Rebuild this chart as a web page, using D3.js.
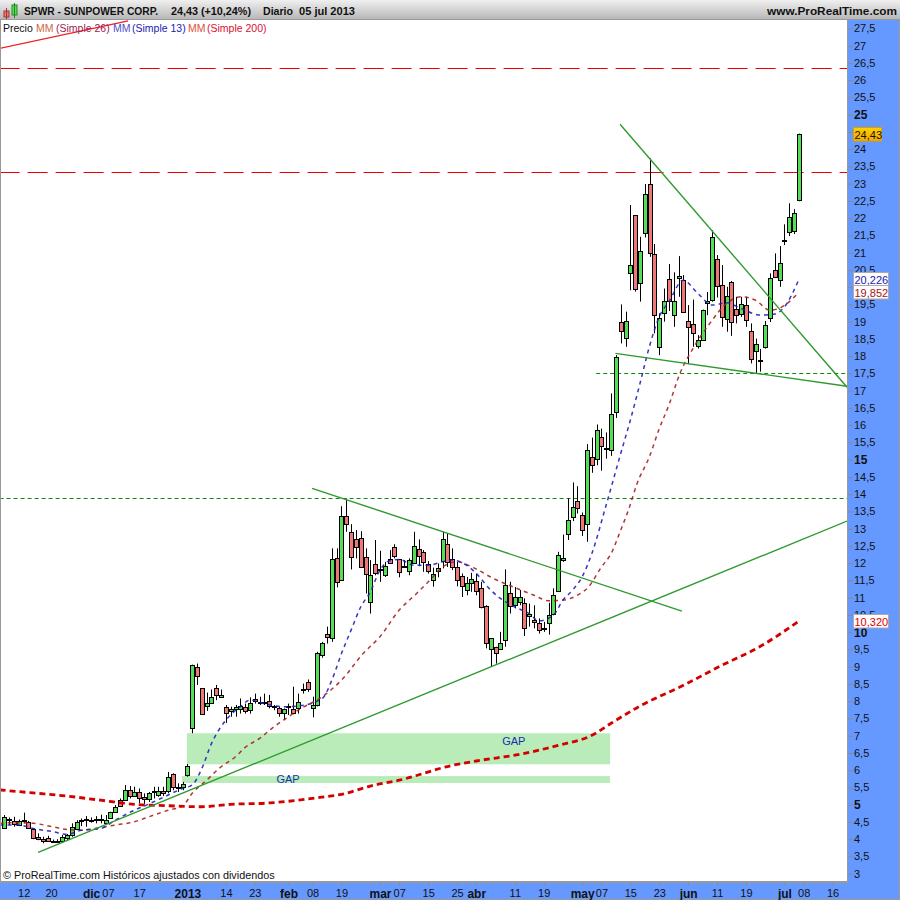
<!DOCTYPE html>
<html><head><meta charset="utf-8">
<script src="https://cdnjs.cloudflare.com/ajax/libs/d3/7.8.5/d3.min.js"></script>
<style>html,body{margin:0;padding:0;background:#fff}svg{display:block}text{font-family:"Liberation Sans",Arial,sans-serif}</style>
</head><body><div id="c"></div>
<script>
// [open, high, low, close] per session
const candles = [
[4.34,4.70,4.31,4.65],[4.59,4.63,4.41,4.56],[4.52,4.65,4.36,4.43],[4.40,4.57,4.38,4.52],[4.56,4.77,4.46,4.55],
[4.505,4.53,4.31,4.34],[4.31,4.31,4.00,4.04],[4.07,4.17,3.97,4.00],[4.02,4.07,3.88,3.97],[4.04,4.10,3.92,3.96],
[3.96,3.99,3.92,3.95],[3.95,4.00,3.90,3.96],[3.96,4.12,3.92,4.07],[4.03,4.15,3.97,4.11],[4.12,4.46,4.07,4.36],
[4.31,4.55,4.26,4.51],[4.56,4.60,4.38,4.57],[4.57,4.67,4.36,4.58],[4.56,4.63,4.48,4.57],[4.57,4.67,4.46,4.58],
[4.58,4.71,4.46,4.59],[4.48,4.70,4.46,4.57],[4.63,4.795,4.63,4.795],[4.80,4.99,4.77,4.94],[5.13,5.18,4.94,4.97],
[5.15,5.57,5.13,5.44],[5.44,5.54,5.18,5.28],[5.26,5.52,5.23,5.37],[5.37,5.47,5.04,5.21],[5.21,5.33,5.02,5.15],
[5.15,5.37,5.08,5.33],[5.39,5.52,5.18,5.40],[5.27,5.52,5.23,5.40],[5.39,5.52,5.25,5.33],[5.37,5.95,5.33,5.79],
[5.88,5.91,5.42,5.49],[5.49,5.62,5.37,5.50],[5.49,5.66,5.42,5.59],[5.86,6.18,5.81,6.12],[7.21,9.06,7.07,9.05],
[8.98,9.09,8.47,8.73],[8.37,8.37,7.62,7.62],[7.86,8.25,7.72,7.96],[7.96,8.34,7.96,8.13],[8.37,8.47,8.03,8.18],
[8.11,8.34,8.11,8.17],[7.84,7.89,7.37,7.67],[7.69,7.84,7.55,7.76],[7.76,7.89,7.55,7.82],[7.76,8.08,7.64,7.85],
[7.82,7.93,7.64,7.69],[7.76,8.11,7.64,7.96],[8.05,8.22,7.93,7.98],[7.97,8.13,7.89,7.98],[7.97,8.22,7.89,7.98],
[8.01,8.18,7.79,7.86],[7.84,7.89,7.74,7.85],[7.79,7.84,7.55,7.64],[7.64,7.79,7.45,7.76],[7.84,7.93,7.60,7.85],
[7.76,8.42,7.62,7.64],[7.82,8.22,7.64,7.98],[8.33,8.51,8.22,8.34],[8.56,8.63,8.27,8.37],[7.82,8.13,7.53,7.90],
[7.89,9.43,7.85,9.41],[9.35,9.72,9.26,9.69],[9.96,10.16,9.67,9.87],[9.83,12.43,9.72,12.11],[12.14,12.43,11.30,11.44],
[11.53,13.65,11.51,13.38],[13.38,13.87,12.91,13.15],[12.91,13.13,11.82,12.19],[12.69,12.96,12.14,12.45],[12.74,12.93,11.88,11.90],
[12.17,12.43,11.12,11.67],[10.89,12.09,10.54,11.67],[11.99,12.67,11.65,11.73],[11.82,12.36,11.46,11.83],[11.66,12.04,11.60,11.92],
[12.11,12.38,11.99,11.99],[12.48,12.55,12.14,12.22],[12.11,12.11,11.59,11.73],[11.92,12.09,11.87,11.93],[11.76,12.14,11.65,12.08],
[12.02,12.91,11.99,12.51],[12.40,12.69,11.91,12.20],[12.31,12.38,11.75,12.02],[11.99,12.06,11.70,11.80],[11.53,11.87,11.32,11.70],
[11.79,11.99,11.59,11.87],[12.04,12.91,11.85,12.69],[12.57,12.86,11.89,12.04],[12.11,12.43,11.80,11.87],[11.89,12.04,11.33,11.50],
[11.63,11.70,11.02,11.35],[11.24,11.60,11.07,11.43],[11.41,11.72,11.17,11.53],[11.47,11.70,11.07,11.18],[11.27,11.46,10.69,10.72],
[10.75,10.78,9.53,9.67],[9.50,9.82,9.00,9.82],[9.56,9.58,9.09,9.38],[9.53,10.01,9.51,9.70],[9.79,11.82,9.58,11.38],
[11.15,11.46,10.54,10.77],[10.80,11.31,10.69,11.03],[10.89,11.22,10.78,11.03],[10.86,10.98,9.89,10.14],[10.47,10.83,10.16,10.54],
[10.34,10.78,10.11,10.28],[10.28,10.40,9.96,10.08],[10.12,10.30,10.01,10.13],[10.28,10.85,9.93,10.50],[10.53,11.27,10.49,11.09],
[11.22,12.33,11.20,12.25],[12.07,12.83,12.04,12.14],[12.82,13.88,12.67,13.24],[13.35,14.34,13.22,13.64],[13.79,14.23,13.44,13.59],
[13.41,13.47,12.79,12.98],[13.12,15.45,12.62,15.27],[15.09,15.64,14.62,14.85],[15.01,16.02,14.84,15.85],[15.66,15.90,14.68,15.41],
[15.34,15.79,15.03,15.35],[15.27,16.92,15.11,16.31],[16.40,18.03,16.21,17.99],[18.98,19.50,18.37,18.72],[18.51,19.29,18.27,19.01],
[20.40,22.38,19.91,20.63],[22.08,22.08,19.87,19.93],[20.14,21.46,19.58,21.06],[21.56,22.99,21.44,22.69],[22.98,23.73,20.88,20.98],
[20.95,21.25,18.66,19.18],[18.28,19.24,18.03,19.12],[19.26,19.96,19.00,19.61],[20.25,20.67,19.31,19.61],[19.21,20.43,18.85,19.61],
[20.25,20.90,19.72,20.31],[20.22,20.35,19.29,19.30],[19.01,19.48,17.77,18.83],[18.92,19.64,18.27,18.66],[18.28,18.61,18.22,18.46],
[18.48,19.35,18.46,19.35],[19.55,19.86,19.19,19.61],[19.61,21.65,19.58,21.44],[20.83,20.93,19.70,20.05],[20.05,20.64,18.85,19.12],
[19.06,20.01,18.71,19.73],[20.14,20.18,18.59,18.98],[19.37,19.72,18.95,19.21],[19.21,19.72,19.14,19.50],[19.47,19.72,18.85,19.03],
[18.72,18.95,17.79,17.90],[18.14,18.51,17.50,18.34],[17.88,18.21,17.55,17.89],[18.25,19.02,18.22,18.89],[19.12,20.40,18.99,20.28],
[20.51,20.98,20.30,20.31],[20.19,21.19,20.01,20.69],[21.37,21.82,21.22,21.38],[21.58,22.43,21.48,22.02],[21.61,22.26,21.54,22.14],
[22.51,24.45,22.49,24.43]];

// moving averages: [session index, value]
const ma200 = [[-1,5.43],[6,5.34],[13,5.25],[20,5.13],[27,5.01],[34,4.97],[41,4.94],[47,5.01],[55,5.05],[61,5.13],[66,5.22],[70,5.30],[76,5.54],[82,5.71],[93,6.14],[99,6.29],[107,6.46],[115,6.72],[122,7.01],[126,7.36],[132,7.86],[141,8.46],[149,9.04],[157,9.59],[165,10.32]];
const ma13 = [[-1,4.41],[3,4.41],[6,4.31],[10,4.22],[13,4.14],[16,4.26],[20,4.31],[23,4.55],[27,4.84],[30,5.02],[34,5.28],[37,5.47],[39,5.57],[41,6.05],[43,6.77],[46,7.45],[49,7.84],[51,8.03],[54,7.93],[58,7.84],[61,7.86],[66,8.08],[68,8.61],[70,9.38],[72,10.06],[74,10.73],[76,11.17],[78,11.80],[80,12.07],[82,12.11],[85,11.94],[88,11.94],[91,12.04],[93,12.09],[96,11.94],[98,11.70],[101,11.22],[103,10.98],[106,10.73],[109,10.54],[111,10.33],[114,10.49],[116,10.93],[118,11.22],[120,11.61],[122,12.28],[125,13.7],[128,15.18],[130,16.15],[132,17.21],[134,18.3],[136,19.14],[138,19.58],[141,20.20],[144,19.82],[147,19.48],[150,19.55],[153,19.38],[157,19.19],[160,19.22],[162,19.43],[165,20.226]];
const ma26 = [[-1,4.46],[2,4.48],[6,4.46],[10,4.36],[13,4.28],[16,4.26],[20,4.34],[23,4.41],[27,4.505],[30,4.65],[34,4.84],[37,4.96],[39,5.33],[42,5.71],[45,6.10],[48,6.39],[50,6.66],[53,6.92],[56,7.26],[59,7.55],[61,7.74],[66,8.13],[70,8.61],[74.5,9.38],[78,9.87],[82,10.64],[85.6,11.12],[89,11.60],[91,11.89],[94,12.04],[97.4,11.87],[101.5,11.56],[105.7,11.31],[110,11.07],[113,10.91],[116,10.93],[119,11.07],[121.3,11.31],[124,11.89],[126,12.28],[128,12.96],[129.6,13.54],[131.4,14.31],[134,15.1],[136,15.9],[138,16.58],[140.3,17.50],[143,18.22],[146.5,18.95],[150,19.53],[153,19.72],[156,19.62],[159,19.33],[161.5,19.43],[165,19.852]];

// hand-drawn studies: [session, price]
const greenTrends = [[[127.85,24.72],[175,17.10]],[[126.9,18.08],[175,17.13]],[[63.9,14.17],[140.7,10.61]],[[7,3.62],[175,13.22]]];
const redTrend = [[-1,26.92],[25.7,27.72]];
const gaps = [{from:37.9,to:125.8,top:7.07,bottom:6.17},{from:36.9,to:125.8,top:5.83,bottom:5.63}];
const gapLabels = [{i:105.8,p:6.84},{i:58.9,p:5.74}];
const redLevels = [26.35,23.35];
const greenLevels = [{from:-1,p:13.88},{from:122.9,p:17.5}];

const yTicks = [3,3.5,4,4.5,5,5.5,6,6.5,7,7.5,8,8.5,9,9.5,10,10.5,11,11.5,12,12.5,13,13.5,14,14.5,15,15.5,16,16.5,17,17.5,18,18.5,19,19.5,20,20.5,21,21.5,22,22.5,23,23.5,24,24.5,25,25.5,26,26.5,27,27.5];
const hiddenPriceLabels = [20,24.5];
const boldPrices = [5,10,15,20,25];
const xTicks = [[4,"12"],[9.7,"20"],[18,"dic"],[21.5,"07"],[28,"17"],[38,"2013"],[46,"14"],[52,"23"],[59,"feb"],[64,"08"],[70,"19"],[78,"mar"],[82,"07"],[88,"15"],[94,"25"],[98,"abr"],[106,"11"],[112,"19"],[120,"may"],[124,"07"],[130,"15"],[136,"23"],[142,"jun"],[148,"11"],[154,"19"],[162,"jul"],[166,"08"],[172,"16"]];
const boldDates = ["dic","2013","feb","mar","abr","may","jun","jul"];
const priceBoxes = [{v:24.43,t:"24,43",c:"#111",w:28,gold:true},{v:20.226,t:"20,226",c:"#1a1ab0",w:35},{v:19.852,t:"19,852",c:"#a01515",w:35},{v:10.320,t:"10,320",c:"#e00000",w:35}];

const W=900,H=900,pr=847,pb=881;
const x=d3.scaleLinear().domain([0,165]).range([4.4,798.9]);
const y=d3.scaleLinear().domain([3,27.5]).range([873.7,28.4]);

const svg=d3.select("#c").append("svg").attr("width",W).attr("height",H);
const defs=svg.append("defs");
const g1=defs.append("linearGradient").attr("id","hdr").attr("x2",0).attr("y2",1);
g1.append("stop").attr("offset",0).attr("stop-color","#f0f0f0");
g1.append("stop").attr("offset",1).attr("stop-color","#b8b8b8");
const g2=defs.append("linearGradient").attr("id","gold").attr("x2",0).attr("y2",1);
g2.append("stop").attr("offset",0).attr("stop-color","#ffd000");
g2.append("stop").attr("offset",1).attr("stop-color","#f7a800");
defs.append("clipPath").attr("id","plot").append("rect").attr("x",1).attr("y",20).attr("width",pr-1).attr("height",pb-20);

svg.append("rect").attr("width",W).attr("height",H).attr("fill","#6699ff");
svg.append("rect").attr("x",0).attr("y",20).attr("width",pr).attr("height",pb-20).attr("fill","#fff");
svg.append("rect").attr("x",0).attr("y",20).attr("width",1).attr("height",pb-20).attr("fill","#999");
svg.append("rect").attr("x",pr).attr("y",20).attr("width",1).attr("height",pb-18).attr("fill","#999");
svg.append("rect").attr("x",0).attr("y",pb).attr("width",pr).attr("height",2).attr("fill","#999");
svg.append("rect").attr("x",W-1).attr("y",0).attr("width",1).attr("height",H).attr("fill","#999");
svg.append("rect").attr("x",0).attr("y",H-1).attr("width",W).attr("height",1).attr("fill","#999");

const plot=svg.append("g").attr("clip-path","url(#plot)");
plot.selectAll("rect.gap").data(gaps).join("rect").attr("class","gap")
  .attr("x",d=>x(d.from)).attr("width",d=>x(d.to)-x(d.from))
  .attr("y",d=>y(d.top)).attr("height",d=>y(d.bottom)-y(d.top)).attr("fill","#b9ecb9");
plot.selectAll("text.gap").data(gapLabels).join("text").attr("class","gap")
  .attr("x",d=>x(d.i)).attr("y",d=>y(d.p)+4).attr("text-anchor","middle")
  .attr("font-size",11).attr("fill","#1a2fb0").text("GAP");

plot.selectAll("line.rl").data(redLevels).join("line").attr("class","rl")
  .attr("x1",x(-1)).attr("x2",pr).attr("y1",d=>Math.round(y(d))+.5).attr("y2",d=>Math.round(y(d))+.5)
  .attr("stroke","#e60000").attr("stroke-width",1).attr("stroke-dasharray","20,8");
plot.selectAll("line.gl").data(greenLevels).join("line").attr("class","gl")
  .attr("x1",d=>x(d.from)).attr("x2",pr).attr("y1",d=>Math.round(y(d.p))+.5).attr("y2",d=>Math.round(y(d.p))+.5)
  .attr("stroke","#118a11").attr("stroke-width",1).attr("stroke-dasharray","4,3");

const cg=plot.selectAll("g.c").data(candles).join("g").attr("class","c");
cg.append("line")
  .attr("x1",(d,i)=>Math.round(x(i))+.5).attr("x2",(d,i)=>Math.round(x(i))+.5)
  .attr("y1",d=>y(d[1])).attr("y2",d=>y(d[2])).attr("stroke","#000").attr("stroke-width",1);
cg.append("rect")
  .attr("x",(d,i)=>Math.round(x(i))-1.5).attr("width",4)
  .attr("y",d=>Math.round(y(Math.max(d[0],d[3])))+.5)
  .attr("height",d=>Math.max(1,Math.round(Math.abs(y(d[0])-y(d[3])))))
  .attr("fill",d=>d[3]>=d[0]?"#55dd55":"#ee7777").attr("stroke","#000").attr("stroke-width",1);

const line=d3.line().x(d=>x(d[0])).y(d=>y(d[1])).curve(d3.curveMonotoneX);
plot.append("path").attr("d",line(ma26)).attr("fill","none").attr("stroke","#a82020").attr("stroke-width",1.5).attr("stroke-dasharray","4,4").attr("opacity",.9);
plot.append("path").attr("d",line(ma13)).attr("fill","none").attr("stroke","#2020b8").attr("stroke-width",1.5).attr("stroke-dasharray","4,4").attr("opacity",.9);
plot.append("path").attr("d",line(ma200)).attr("fill","none").attr("stroke","#d40000").attr("stroke-width",2.8).attr("stroke-dasharray","6,4");

const straight=d3.line().x(d=>x(d[0])).y(d=>y(d[1]));
plot.selectAll("path.tr").data(greenTrends).join("path").attr("class","tr").attr("d",straight)
  .attr("fill","none").attr("stroke","#2e9a2e").attr("stroke-width",1.4);
plot.append("path").attr("d",straight(redTrend)).attr("fill","none").attr("stroke","#ee2020").attr("stroke-width",1.2);

// axes
const yAxis=d3.axisRight(y).tickValues(yTicks).tickSize(5).tickPadding(1)
  .tickFormat(d=>hiddenPriceLabels.includes(d)?"":String(d).replace(".",","));
const ya=svg.append("g").attr("transform",`translate(${pr+1},0)`).call(yAxis);
ya.select(".domain").remove();
ya.selectAll(".tick line").attr("stroke","#8a8a8a");
ya.selectAll(".tick text").attr("fill","#111")
  .attr("font-family",'"Liberation Sans",Arial,sans-serif')
  .attr("font-weight",d=>boldPrices.includes(d)?"bold":"normal")
  .attr("font-size",d=>boldPrices.includes(d)?12:11);

const xAxis=d3.axisBottom(x).tickValues(xTicks.map(d=>d[0])).tickSize(3).tickPadding(3)
  .tickFormat(d=>xTicks.find(t=>t[0]===d)[1]);
const xa=svg.append("g").attr("transform",`translate(0,${pb+2})`).call(xAxis);
xa.select(".domain").remove();
xa.selectAll(".tick line").attr("stroke","#8a8a8a");
xa.selectAll(".tick text").attr("fill","#111")
  .attr("font-family",'"Liberation Sans",Arial,sans-serif')
  .attr("font-size",(d,i)=>boldDates.includes(xTicks[i][1])?12:11)
  .attr("font-weight",(d,i)=>boldDates.includes(xTicks[i][1])?"bold":"normal");

// price boxes
const pb2=svg.selectAll("g.box").data(priceBoxes).join("g").attr("class","box");
pb2.append("rect").attr("x",853.5).attr("y",d=>Math.round(y(d.v))-6.5).attr("width",d=>d.w).attr("height",13.5)
  .attr("fill",d=>d.gold?"url(#gold)":"#fdfdfd").attr("stroke",d=>d.gold?"#d8a000":"#aaa");
pb2.append("text").attr("x",854.5).attr("y",d=>Math.round(y(d.v))+4.5).attr("font-size",11).attr("fill",d=>d.c).text(d=>d.t);

// header
svg.append("rect").attr("width",W).attr("height",19).attr("fill","url(#hdr)");
svg.append("rect").attr("y",19).attr("width",W).attr("height",1).attr("fill","#999");
svg.append("rect").attr("x",4).attr("y",11).attr("width",5).attr("height",6).attr("fill","#ee7777").attr("stroke","#a33");
svg.append("line").attr("x1",6.5).attr("x2",6.5).attr("y1",8).attr("y2",19).attr("stroke","#a33");
svg.append("rect").attr("x",12).attr("y",5).attr("width",5).attr("height",10).attr("fill","#55dd55").attr("stroke","#282");
svg.append("line").attr("x1",14.5).attr("x2",14.5).attr("y1",3).attr("y2",18).attr("stroke","#282");
const hdr=[[24,"SPWR - SUNPOWER CORP.",134],[171,"24,43 (+10,24%)",80],[263,"Diario",30],[299,"05 jul 2013",56],[767,"www.ProRealTime.com",130]];
svg.selectAll("text.h").data(hdr).join("text").attr("class","h").attr("x",d=>d[0]).attr("y",15)
  .attr("font-size",11.5).attr("font-weight","bold").attr("fill","#111")
  .attr("textLength",d=>d[2]).attr("lengthAdjust","spacingAndGlyphs").text(d=>d[1]);

// legend
const legend=[[3,"Precio","#111"],[36,"MM","#cc6a40"],[56,"(Simple 26)","#a02050"],[113,"MM","#5050d0"],[132,"(Simple 13)","#2020b0"],[188,"MM","#e05040"],[207,"(Simple 200)","#d81030"]];
svg.selectAll("text.l").data(legend).join("text").attr("class","l").attr("x",d=>d[0]).attr("y",32)
  .attr("font-size",10.5).attr("fill",d=>d[2]).text(d=>d[1]);

svg.append("text").attr("x",3).attr("y",879).attr("font-size",10.8).attr("fill","#111")
  .text("© ProRealTime.com  Históricos ajustados con dividendos");
</script></body></html>
